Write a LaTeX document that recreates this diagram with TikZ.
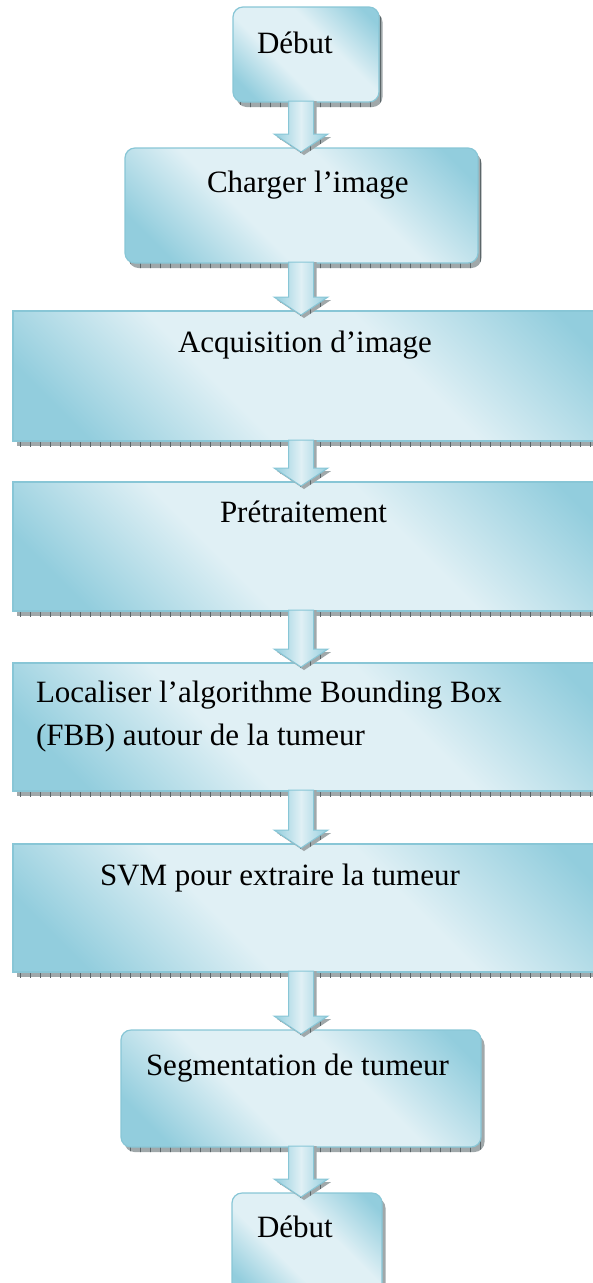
\documentclass[tikz,border=0pt]{standalone}
\usepackage{fontspec}
\setmainfont{Liberation Serif}
\usetikzlibrary{calc,backgrounds,patterns.meta}

\definecolor{boxdark}{RGB}{146,205,221}
\definecolor{boxlight}{RGB}{224,240,245}
\definecolor{boxedge}{RGB}{136,198,214}
\definecolor{shadowgray}{RGB}{160,168,170}
\definecolor{shadowtick}{RGB}{92,102,105}

% diagonal gloss: dark corners, broad light band in between
\pgfdeclareverticalshading{boxgloss}{100bp}{%
  color(0bp)=(boxdark); color(22bp)=(boxdark); color(40bp)=(boxlight);
  color(60bp)=(boxlight); color(80bp)=(boxdark); color(100bp)=(boxdark)}

% text block inside a box: width, height, baseline below top, left indent, text
\newcommand\boxtext[5]{%
  \parbox[c][#2pt][t]{#1pt}{\leftskip=#4pt\rightskip=0pt plus 1fil\parindent=0pt
    \vspace*{\dimexpr#3pt-\ht\strutbox\relax}\strut #5\strut}}

% block arrow from the bottom of one box to the top of the next
\newcommand\flowarrow[2]{%
  \path[arrowshadow]
    ($(#1.south -| axis)+(-9.5,1)$) -- ($(#2.north -| axis)+(-9.5,11)$) --
    ($(#2.north -| axis)+(-24,11)$) -- ($(#2.north -| axis)+(3,-7)$) --
    ($(#2.north -| axis)+(30,11)$) -- ($(#2.north -| axis)+(15.5,11)$) --
    ($(#1.south -| axis)+(15.5,1)$) -- cycle;
  \path[arrowbody]
    ($(#1.south -| axis)+(-12.5,1)$) -- ($(#2.north -| axis)+(-12.5,14)$) --
    ($(#2.north -| axis)+(-27,14)$) -- ($(#2.north -| axis)+(0,-4)$) --
    ($(#2.north -| axis)+(27,14)$) -- ($(#2.north -| axis)+(12.5,14)$) --
    ($(#1.south -| axis)+(12.5,1)$) -- cycle;
}

\tikzset{
  flowbox/.style={draw=boxedge, line width=1.2pt,
    shading=boxgloss, shading angle=-45,
    inner sep=0pt, outer sep=0pt, anchor=north west,
    font=\fontsize{31}{43}\selectfont, text=black},
  roundbox/.style={flowbox, rounded corners=10pt},
  boxshadow/.style={preaction={fill=shadowgray},
    pattern={Lines[angle=90,distance=10pt,line width=0.9pt]},
    pattern color=shadowtick},
  arrowshadow/.style={boxshadow},
  arrowbody/.style={draw=boxedge, line width=1pt,
    left color=boxdark, right color=boxdark, middle color=boxlight},
}

\begin{document}
\begin{tikzpicture}[x=1pt, y=1pt]
  \useasboundingbox (0,0) rectangle (592,-1283);
  \coordinate (axis) at (301,0);

  \node[roundbox] (start) at (233,-7)   {\boxtext{146}{95}{46}{24}{Début}};
  \node[roundbox] (load)  at (125,-148) {\boxtext{353}{115}{44}{82}{Charger l’image}};
  \node[flowbox]  (acq)   at (13,-311)  {\boxtext{600}{130}{41}{165}{Acquisition d’image}};
  \node[flowbox]  (pre)   at (13,-482)  {\boxtext{600}{129}{40}{207}{Prétraitement}};
  \node[flowbox]  (fbb)   at (13,-663)  {\boxtext{600}{128}{39}{23}{Localiser l’algorithme Bounding Box\\(FBB) autour de la tumeur}};
  \node[flowbox]  (svm)   at (13,-844)  {\boxtext{600}{128}{41}{87}{SVM pour extraire la tumeur}};
  \node[roundbox] (seg)   at (121,-1030){\boxtext{360}{117}{45}{25}{Segmentation de tumeur}};
  \node[roundbox] (stop)  at (232,-1193){\boxtext{150}{107}{44}{25}{Début}};

  \begin{scope}[on background layer]
    \foreach \n in {start,load,seg,stop}
      \path[boxshadow, rounded corners=10pt]
        ([shift={(3.5,-5)}]\n.south west) rectangle ([shift={(3.5,-5)}]\n.north east);
    \foreach \n in {acq,pre,fbb,svm}
      \path[boxshadow]
        ([shift={(3.5,-5)}]\n.south west) rectangle ([shift={(3.5,-5)}]\n.north east);
  \end{scope}

  \flowarrow{start}{load}
  \flowarrow{load}{acq}
  \flowarrow{acq}{pre}
  \flowarrow{pre}{fbb}
  \flowarrow{fbb}{svm}
  \flowarrow{svm}{seg}
  \flowarrow{seg}{stop}
\end{tikzpicture}
\end{document}
